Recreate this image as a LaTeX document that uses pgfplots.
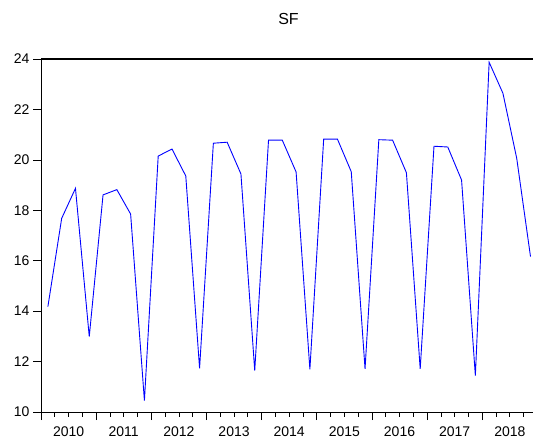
\documentclass[border=0pt]{standalone}
\usepackage{fontspec}
\setmainfont{Liberation Sans}
\usepackage{pgfplots}
\pgfplotsset{compat=1.18}
\usepackage{pgfplotstable}
\pgfplotstableread{
x y
2010.125 14.18
2010.375 17.68
2010.625 18.87
2010.875 12.99
2011.125 18.61
2011.375 18.82
2011.625 17.85
2011.875 10.45
2012.125 20.15
2012.375 20.43
2012.625 19.36
2012.875 11.73
2013.125 20.66
2013.375 20.70
2013.625 19.44
2013.875 11.64
2014.125 20.78
2014.375 20.78
2014.625 19.52
2014.875 11.69
2015.125 20.82
2015.375 20.82
2015.625 19.53
2015.875 11.71
2016.125 20.80
2016.375 20.78
2016.625 19.49
2016.875 11.71
2017.125 20.54
2017.375 20.51
2017.625 19.20
2017.875 11.44
2018.125 23.87
2018.375 22.64
2018.625 20.06
2018.875 16.16
}\sfdata
\begin{document}
\begin{tikzpicture}
\path[use as bounding box] (-41bp,-30bp) rectangle (492bp,412bp);
\begin{axis}[
  at={(0,0)}, anchor=south west,
  scale only axis,
  width=492bp, height=353bp,
  xmin=2010, xmax=2018.92,
  ymin=10, ymax=24,
  axis x line*=bottom,
  axis y line*=left,
  axis line style={black, line width=0.8bp},
  tick align=outside,
  tick style={black, line width=0.7bp},
  xtick={2010,2011,...,2018},
  xticklabels={,,,,,,,,},
  major tick length=8bp,
  minor xtick={2010,2010.25,...,2018.8},
  minor tick length=4.5bp,
  extra x ticks={2010.5,2011.5,2012.5,2013.5,2014.5,2015.5,2016.5,2017.5,2018.5},
  extra x tick labels={2010,2011,2012,2013,2014,2015,2016,2017,2018},
  extra x tick style={major tick length=0pt, tick style={draw=none},
    xticklabel style={anchor=base, yshift=-24bp}},
  ytick={10,12,...,24},
  /pgf/number format/assume math mode=true,
  tick label style={font=\fontsize{14bp}{16bp}\selectfont},
  clip=false,
]
\addplot[blue, line width=0.9bp, no markers] table[x=x,y=y] {\sfdata};
\draw[black, line width=1.4bp] (rel axis cs:0,1) -- (rel axis cs:1,1);
\node[anchor=base, font=\fontsize{16bp}{18bp}\selectfont] at ([xshift=1.5bp,yshift=34.7bp]rel axis cs:0.5,1) {SF};
\end{axis}
\end{tikzpicture}
\end{document}
